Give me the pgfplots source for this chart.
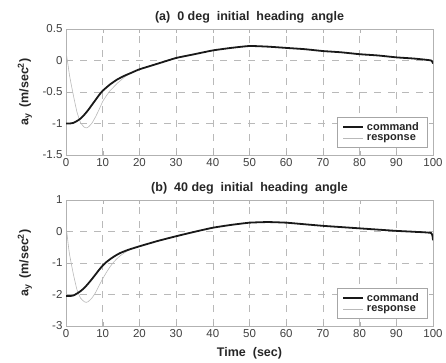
\documentclass[border=0pt]{standalone}
\usepackage{pgfplots}
\pgfplotsset{compat=1.18}
\usepackage{fontspec}
\setmainfont{Liberation Sans}
\pgfplotstableread{
t y
0 -1.0
1 -1.0
2 -0.99
3 -0.96
4 -0.92
5 -0.86
6 -0.79
7 -0.71
8 -0.63
9 -0.55
10 -0.48
12 -0.38
14 -0.30
16 -0.24
18 -0.19
20 -0.14
25 -0.05
30 0.04
35 0.10
40 0.16
45 0.20
50 0.23
55 0.22
60 0.20
65 0.18
70 0.15
75 0.13
80 0.10
85 0.08
90 0.05
95 0.03
99.5 0.0
100 -0.05
}\cmdA
\pgfplotstableread{
t y
0 0.15
0.5 -0.05
1 -0.25
2 -0.55
3 -0.82
4 -0.99
5 -1.06
5.5 -1.07
6 -1.06
7 -1.0
8 -0.9
9 -0.78
10 -0.65
11 -0.56
12 -0.48
13 -0.42
14 -0.36
15 -0.31
16 -0.26
17 -0.225
18 -0.19
}\resA
\pgfplotstableread{
t y
0 -2.05
1 -2.05
2 -2.03
3 -1.97
4 -1.89
5 -1.79
6 -1.66
7 -1.52
8 -1.37
9 -1.22
10 -1.08
11 -0.97
12 -0.88
13 -0.80
14 -0.73
15 -0.67
17 -0.58
20 -0.47
25 -0.30
30 -0.15
35 -0.01
40 0.12
45 0.21
50 0.28
55 0.30
60 0.28
65 0.23
70 0.18
75 0.14
80 0.10
85 0.06
90 0.02
95 -0.01
99.5 -0.05
100 -0.28
}\cmdB
\pgfplotstableread{
t y
0 0.2
0.3 -0.1
0.7 -0.5
1 -0.75
2 -1.35
3 -1.85
4 -2.12
5 -2.23
5.5 -2.25
6 -2.23
7 -2.12
8 -1.95
9 -1.72
10 -1.5
11 -1.3
12 -1.12
13 -0.97
14 -0.85
15 -0.75
16 -0.67
17 -0.60
18 -0.55
}\resB
\pgfplotsset{
  myax/.style={
    width=367pt, height=126pt, scale only axis,
    xmin=0, xmax=100, xtick={0,10,...,100},
    grid=major,
    major grid style={dash pattern=on 7pt off 7pt, gray!55, line width=0.5pt},
    axis line style={gray!60},
    tick style={gray!60},
    tick align=inside,
    tick label style={font=\fontsize{11.5}{13}\selectfont, text=black!75},
    /pgf/number format/assume math mode=true,
    ylabel={\bfseries a$_{\mathbf{y}}$\ \,(m/sec$^{\mathbf{2}}$)},
    ylabel style={font=\fontsize{12.5}{14}\selectfont, text=black!85,
      at={(axis description cs:-0.112,0.5)}, anchor=center},
    title style={font=\bfseries\fontsize{12.5}{14}\selectfont, text=black!85,
      at={(axis description cs:0.5,1)}, anchor=center, yshift=6pt},
    legend style={at={(0.984,0.06)}, anchor=south east, draw=gray!70,
      font=\bfseries\fontsize{11}{12}\selectfont, row sep=-1pt,
      inner xsep=5pt, inner ysep=3pt, text=black!85,
      nodes={inner xsep=3pt}},
    legend cell align=left,
    legend image post style={xscale=1.15},
    reverse legend,
    every axis plot/.append style={smooth, tension=0.3},
  }
}
\begin{document}
\begin{tikzpicture}
\path[use as bounding box] (-66pt,29pt) rectangle (380pt,-333pt);
\begin{axis}[myax, at={(0,0)}, anchor=north west,
  ymin=-1.5, ymax=0.5, ytick={-1.5,-1,-0.5,0,0.5},
  yticklabels={-1.5,-1,-0.5,0,0.5},
  title={(a)\ \ 0 deg\ \ initial\ \ heading\ \ angle}]
\addplot[gray!55, line width=0.6pt] table[x=t,y=y] {\resA};
\addlegendentry{response}
\addplot[black!90, line width=1.8pt] table[x=t,y=y] {\cmdA};
\addlegendentry{command}
\end{axis}
\begin{axis}[myax, at={(0,-171pt)}, anchor=north west,
  ymin=-3, ymax=1, ytick={-3,-2,-1,0,1},
  title={(b)\ \ 40 deg\ \ initial\ \ heading\ \ angle},
  xlabel={\bfseries Time\ \ (sec)},
  xlabel style={font=\fontsize{12.5}{14}\selectfont, text=black!85,
    at={(axis description cs:0.5,0)}, anchor=center, yshift=-27pt}]
\addplot[gray!55, line width=0.6pt] table[x=t,y=y] {\resB};
\addlegendentry{response}
\addplot[black!90, line width=1.8pt] table[x=t,y=y] {\cmdB};
\addlegendentry{command}
\end{axis}
\end{tikzpicture}
\end{document}
